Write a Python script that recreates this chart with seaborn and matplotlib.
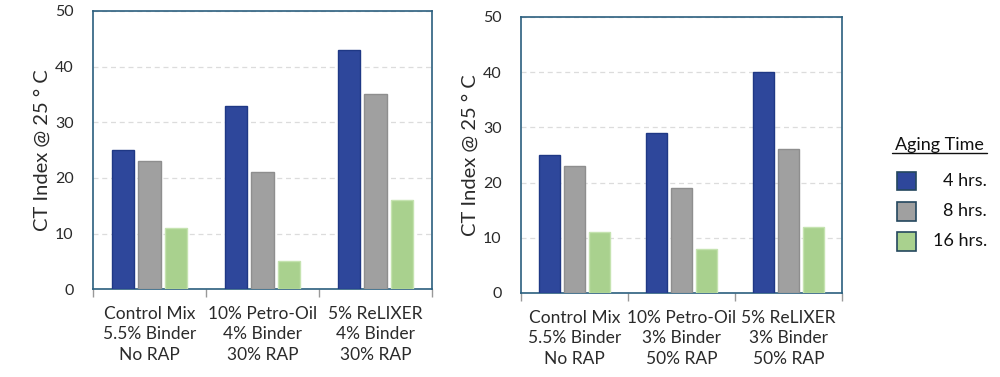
import seaborn as sns
import matplotlib.pyplot as plt
import matplotlib.ticker as mtick
import pandas as pd
from matplotlib.patches import Rectangle
from matplotlib.lines import Line2D

# data
aging = ["4 hrs.", "8 hrs.", "16 hrs."]
mixes_left = ["Control Mix\n5.5% Binder\nNo RAP",
              "10% Petro-Oil\n4% Binder\n30% RAP",
              "5% ReLIXER\n4% Binder\n30% RAP"]
mixes_right = ["Control Mix\n5.5% Binder\nNo RAP",
               "10% Petro-Oil\n3% Binder\n50% RAP",
               "5% ReLIXER\n3% Binder\n50% RAP"]
ct_left = {"4 hrs.": [25, 33, 43], "8 hrs.": [23, 21, 35], "16 hrs.": [11, 5, 16]}
ct_right = {"4 hrs.": [25, 29, 40], "8 hrs.": [23, 19, 26], "16 hrs.": [11, 8, 12]}
yticks = [0, 10, 20, 30, 40, 50]

palette = {"4 hrs.": "#2E479B", "8 hrs.": "#A0A0A0", "16 hrs.": "#A9D18E"}
edges = {"4 hrs.": "#1F3885", "8 hrs.": "#8E8E8E", "16 hrs.": "#C5E3B0"}
frame_col = "#2B5F7E"
txt_col = "#2a2a2a"

sns.set_theme(style="white")
plt.rcParams['font.family'] = ['Lato', 'DejaVu Sans']


def long_form(mixes, ct):
    rows = []
    for a in aging:
        for m, v in zip(mixes, ct[a]):
            rows.append({"Mix": m, "Aging": a, "CT": v})
    return pd.DataFrame(rows)


fig = plt.figure(figsize=(10, 3.77), dpi=100)
ax1 = fig.add_axes([0.093, 0.233, 0.339, 0.738])
ax2 = fig.add_axes([0.521, 0.223, 0.321, 0.732])

for ax, mixes, ct in [(ax1, mixes_left, ct_left), (ax2, mixes_right, ct_right)]:
    df = long_form(mixes, ct)
    sns.barplot(data=df, x="Mix", y="CT", hue="Aging", hue_order=aging,
                order=mixes, palette=palette, width=0.7, gap=0.16,
                saturation=1, legend=False, ax=ax, zorder=3)
    # bar edge colours per hue
    for cont, a in zip(ax.containers, aging):
        for p in cont:
            p.set_edgecolor(edges[a])
            p.set_linewidth(1.0)
    ax.set_ylim(0, 50)
    ax.set_xlim(-0.5, 2.5)
    ax.set_yticks(yticks)
    ax.yaxis.grid(True, linestyle=(0, (4, 3)), color="#dcdcdc", linewidth=0.9, zorder=0)
    ax.set_xlabel("")
    ax.set_ylabel("CT Index @ 25 \u00b0 C", fontsize=14.5, color=txt_col, labelpad=3)
    for s in ax.spines.values():
        s.set_color(frame_col)
        s.set_linewidth(1.2)
    ax.tick_params(axis='y', length=0, labelsize=11.5, labelcolor=txt_col, pad=14)
    ax.tick_params(axis='x', length=0, labelsize=12.5, labelcolor=txt_col, pad=12)
    # boundary ticks between groups
    ax.xaxis.set_minor_locator(mtick.FixedLocator([-0.5, 0.5, 1.5, 2.5]))
    ax.tick_params(axis='x', which='minor', length=6, color="#999999", width=1, bottom=True)
    for lab in ax.get_xticklabels():
        lab.set_linespacing(1.35)

# legend drawn by hand
fig.text(0.939, 0.595, "Aging Time", fontsize=13, color="#111111", ha="center", va="bottom")
fig.add_artist(Line2D([0.892, 0.987], [0.593, 0.593], color="#111111", lw=1))
for i, a in enumerate(aging):
    y = 0.52 - i * 0.08
    fig.add_artist(Rectangle((0.897, y - 0.025), 0.019, 0.05, facecolor=palette[a],
                             edgecolor="#24475E", lw=1.2))
    fig.text(0.987, y, a, fontsize=13, color="#111111", ha="right", va="center")

plt.savefig("out.png", dpi=100)
